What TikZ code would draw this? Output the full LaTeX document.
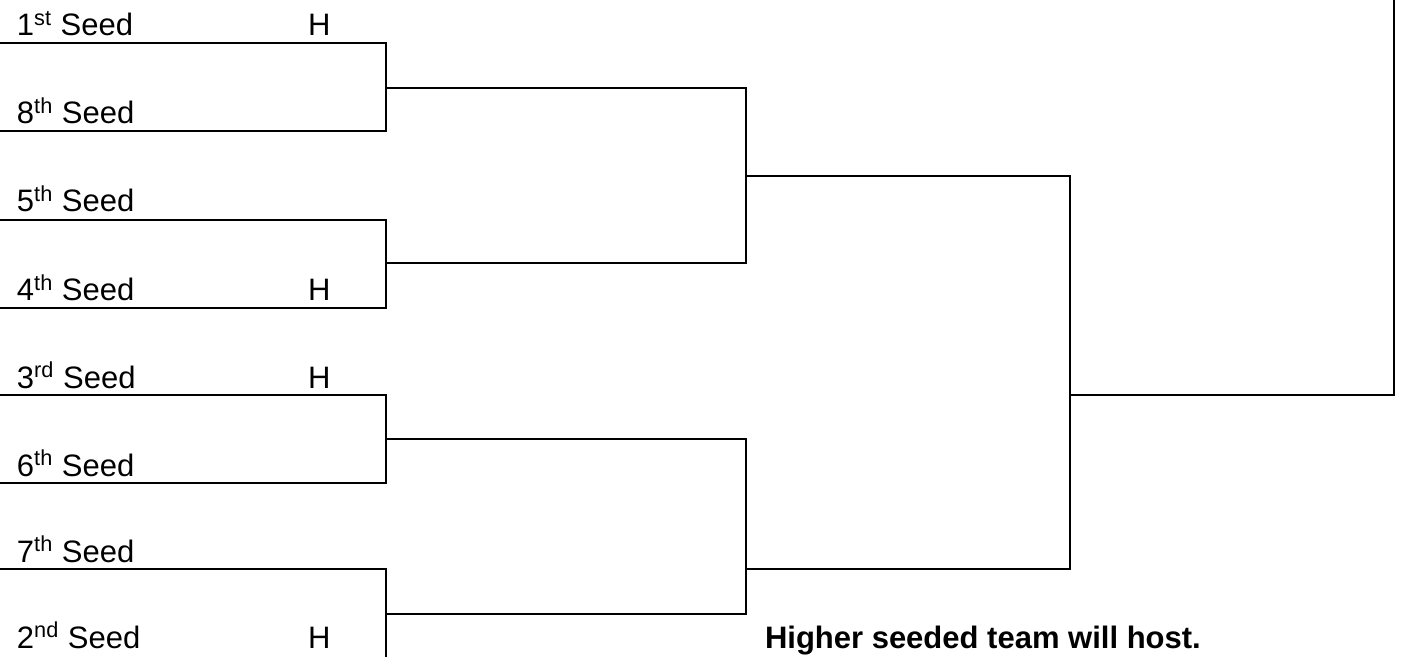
\documentclass[tikz,border=0pt]{standalone}
\usepackage{fontspec}
\setmainfont{Liberation Sans}
\usetikzlibrary{positioning}

\begin{document}
\begin{tikzpicture}[x=0.5pt,y=-0.5pt,line width=1pt,
    seed/.style={anchor=base west,inner sep=0pt,font=\fontsize{15.5}{18}\selectfont},
    note/.style={seed,font=\fontsize{15.5}{18}\selectfont\bfseries}]
\useasboundingbox (0,0) rectangle (1402,657);
% seed lines
\coordinate (r1) at (0,43);
\coordinate (r2) at (0,131);
\coordinate (r3) at (0,220);
\coordinate (r4) at (0,308);
\coordinate (r5) at (0,395);
\coordinate (r6) at (0,483);
\coordinate (r7) at (0,569);
\coordinate (r8) at (0,659);
% later rounds
\coordinate (a1) at (386,88);
\coordinate (a2) at (386,263);
\coordinate (a3) at (386,439);
\coordinate (a4) at (386,614);
\coordinate (b1) at (746,176);
\coordinate (b2) at (746,569);
\coordinate (c) at (1070,395);
\coordinate (top) at (1394,0);

\node[seed] (n1) at (16,36) {1\textsuperscript{st} Seed};
\node[seed] (n2) at (16,124) {8\textsuperscript{th} Seed};
\node[seed] (n3) at (16,212) {5\textsuperscript{th} Seed};
\node[seed] (n4) at (16,301) {4\textsuperscript{th} Seed};
\node[seed] (n5) at (16,388) {3\textsuperscript{rd} Seed};
\node[seed] (n6) at (16,476) {6\textsuperscript{th} Seed};
\node[seed] (n7) at (16,562) {7\textsuperscript{th} Seed};
\node[seed] (n8) at (16,648) {2\textsuperscript{nd} Seed};
\node[seed] (h1) at (307,36) {H};
\node[seed] (h4) at (307,301) {H};
\node[seed] (h5) at (307,388) {H};
\node[seed] (h8) at (307,648) {H};
\node[note] (host) at (764,648) {Higher seeded team will host.};

\draw (r1) -| (a1) |- (r2);
\draw (r3) -| (a2) |- (r4);
\draw (r5) -| (a3) |- (r6);
\draw (r7) -| (a4) |- (r8);
\draw (a1) -| (b1) |- (a2);
\draw (a3) -| (b2) |- (a4);
\draw (b1) -| (c) |- (b2);
\draw (c) -| (top);
\end{tikzpicture}
\end{document}
